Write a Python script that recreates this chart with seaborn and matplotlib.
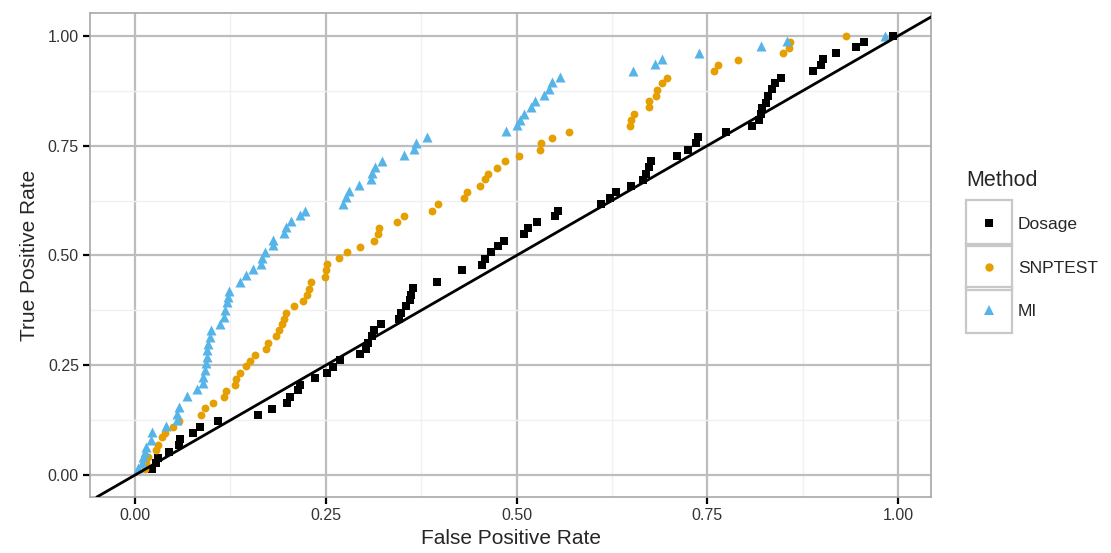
import matplotlib
matplotlib.use("Agg")
import matplotlib.pyplot as plt
import numpy as np
import pandas as pd
import seaborn as sns
from matplotlib.lines import Line2D
from matplotlib.patches import Rectangle

# ROC points
dosage_fpr = [0.022, 0.028, 0.030, 0.044, 0.057, 0.059, 0.076, 0.085, 0.109, 0.161,
              0.179, 0.199, 0.203, 0.214, 0.216, 0.236, 0.251, 0.260, 0.268, 0.295,
              0.303, 0.305, 0.310, 0.313, 0.322, 0.346, 0.348, 0.355, 0.360, 0.362,
              0.364, 0.396, 0.429, 0.454, 0.458, 0.466, 0.475, 0.483, 0.510, 0.515,
              0.527, 0.550, 0.554, 0.611, 0.623, 0.630, 0.650, 0.666, 0.670, 0.674,
              0.676, 0.710, 0.724, 0.735, 0.738, 0.774, 0.809, 0.817, 0.820, 0.822,
              0.827, 0.830, 0.835, 0.839, 0.846, 0.888, 0.899, 0.902, 0.919, 0.945,
              0.955, 0.993]
dosage_tpr = [0.013, 0.027, 0.038, 0.053, 0.068, 0.081, 0.096, 0.110, 0.123, 0.136,
              0.150, 0.164, 0.178, 0.193, 0.205, 0.220, 0.233, 0.246, 0.261, 0.275,
              0.288, 0.301, 0.316, 0.330, 0.343, 0.356, 0.368, 0.384, 0.398, 0.409,
              0.427, 0.439, 0.466, 0.479, 0.493, 0.508, 0.521, 0.534, 0.548, 0.562,
              0.577, 0.589, 0.602, 0.618, 0.630, 0.644, 0.659, 0.672, 0.686, 0.701,
              0.714, 0.727, 0.741, 0.755, 0.769, 0.782, 0.795, 0.808, 0.822, 0.835,
              0.848, 0.864, 0.879, 0.892, 0.905, 0.919, 0.933, 0.947, 0.961, 0.975,
              0.987, 1.000]

snptest_fpr = [0.013, 0.015, 0.017, 0.028, 0.030, 0.035, 0.039, 0.050, 0.058, 0.087,
               0.092, 0.102, 0.116, 0.119, 0.131, 0.132, 0.137, 0.145, 0.151, 0.157,
               0.171, 0.174, 0.185, 0.188, 0.192, 0.195, 0.198, 0.208, 0.220, 0.225,
               0.228, 0.230, 0.249, 0.250, 0.252, 0.267, 0.278, 0.295, 0.313, 0.318,
               0.320, 0.343, 0.352, 0.389, 0.397, 0.431, 0.435, 0.452, 0.459, 0.463,
               0.474, 0.485, 0.503, 0.531, 0.532, 0.547, 0.568, 0.649, 0.650, 0.654,
               0.673, 0.674, 0.683, 0.684, 0.691, 0.697, 0.758, 0.764, 0.790, 0.849,
               0.857, 0.858, 0.932]
snptest_tpr = [0.013, 0.027, 0.042, 0.057, 0.068, 0.086, 0.096, 0.110, 0.123, 0.136,
               0.152, 0.164, 0.178, 0.192, 0.206, 0.218, 0.233, 0.248, 0.259, 0.274,
               0.288, 0.301, 0.316, 0.330, 0.343, 0.356, 0.369, 0.384, 0.396, 0.411,
               0.424, 0.439, 0.452, 0.466, 0.480, 0.494, 0.508, 0.520, 0.534, 0.548,
               0.562, 0.576, 0.589, 0.602, 0.618, 0.631, 0.645, 0.658, 0.673, 0.686,
               0.699, 0.714, 0.727, 0.740, 0.755, 0.767, 0.782, 0.795, 0.809, 0.823,
               0.837, 0.851, 0.864, 0.877, 0.892, 0.905, 0.919, 0.933, 0.945, 0.961,
               0.973, 0.987, 1.000]

mi_fpr = [0.004, 0.009, 0.011, 0.013, 0.015, 0.021, 0.022, 0.041, 0.055, 0.055,
          0.057, 0.068, 0.081, 0.089, 0.089, 0.092, 0.093, 0.094, 0.094, 0.095,
          0.098, 0.100, 0.111, 0.116, 0.118, 0.120, 0.122, 0.123, 0.137, 0.145,
          0.154, 0.165, 0.166, 0.170, 0.181, 0.181, 0.195, 0.198, 0.205, 0.216,
          0.223, 0.273, 0.277, 0.280, 0.294, 0.309, 0.311, 0.315, 0.323, 0.352,
          0.366, 0.368, 0.382, 0.486, 0.501, 0.505, 0.510, 0.519, 0.524, 0.536,
          0.542, 0.546, 0.557, 0.653, 0.681, 0.691, 0.739, 0.820, 0.854, 0.983]
mi_tpr = [0.015, 0.027, 0.042, 0.053, 0.064, 0.080, 0.098, 0.111, 0.125, 0.140,
          0.154, 0.180, 0.195, 0.210, 0.223, 0.239, 0.254, 0.269, 0.284, 0.299,
          0.314, 0.330, 0.345, 0.360, 0.375, 0.394, 0.405, 0.420, 0.439, 0.455,
          0.470, 0.481, 0.495, 0.508, 0.523, 0.536, 0.551, 0.564, 0.578, 0.591,
          0.602, 0.617, 0.632, 0.646, 0.661, 0.674, 0.688, 0.701, 0.716, 0.729,
          0.743, 0.756, 0.770, 0.784, 0.797, 0.809, 0.822, 0.837, 0.851, 0.865,
          0.879, 0.894, 0.907, 0.920, 0.936, 0.948, 0.962, 0.976, 0.989, 1.000]

methods = ["Dosage", "SNPTEST", "MI"]
colors = {"Dosage": "#000000", "SNPTEST": "#E69F00", "MI": "#56B4E9"}
markers = {"Dosage": "s", "SNPTEST": "o", "MI": "^"}
sizes = {"Dosage": 38, "SNPTEST": 32, "MI": 52}

df = pd.concat([
    pd.DataFrame({"fpr": dosage_fpr, "tpr": dosage_tpr, "Method": "Dosage"}),
    pd.DataFrame({"fpr": snptest_fpr, "tpr": snptest_tpr, "Method": "SNPTEST"}),
    pd.DataFrame({"fpr": mi_fpr, "tpr": mi_tpr, "Method": "MI"}),
], ignore_index=True)

sns.set_theme(style="white")
plt.rcParams["font.family"] = ["Liberation Sans", "DejaVu Sans"]

fig = plt.figure(figsize=(11.11, 5.53), dpi=100)
ax = fig.add_axes([90 / 1111, 56 / 553, 841 / 1111, 484 / 553])

for m in methods:
    sub = df[df["Method"] == m]
    sns.scatterplot(data=sub, x="fpr", y="tpr", color=colors[m], marker=markers[m],
                    s=sizes[m], linewidth=0, ax=ax, zorder=3, legend=False)

ax.axline((0, 0), slope=1, color="black", lw=2, zorder=4)

ax.set_xlim(-0.059, 1.043)
ax.set_ylim(-0.05, 1.052)
ticks = [0, 0.25, 0.5, 0.75, 1.0]
ax.set_xticks(ticks)
ax.set_yticks(ticks)
ax.set_xticklabels(["0.00", "0.25", "0.50", "0.75", "1.00"])
ax.set_yticklabels(["0.00", "0.25", "0.50", "0.75", "1.00"])
ax.set_xticks([0.125, 0.375, 0.625, 0.875], minor=True)
ax.set_yticks([0.125, 0.375, 0.625, 0.875], minor=True)
ax.grid(which="major", color="#bdbdbd", lw=1.6, zorder=0)
ax.grid(which="minor", color="#f0f0f0", lw=1.0, zorder=0)
ax.set_axisbelow(True)
ax.tick_params(which="major", direction="out", length=5, width=1.6, color="black",
               labelsize=11.5, labelcolor="#333333", pad=3,
               bottom=True, left=True)
ax.tick_params(which="minor", length=0)
for sp in ax.spines.values():
    sp.set_color("#a8a8a8")
    sp.set_linewidth(1.2)

ax.set_xlabel("False Positive Rate", fontsize=15, labelpad=4)
ax.set_ylabel("True Positive Rate", fontsize=15, labelpad=6)

# legend in ggplot style: framed keys, title placed separately
handles = [Line2D([], [], ls="none", marker=markers[m], color=colors[m],
                  markersize=6 if m != "MI" else 7, markeredgewidth=0) for m in methods]
leg = fig.legend(handles, methods, loc="center left",
                 bbox_to_anchor=(967 / 1111, 1 - 268 / 553),
                 frameon=False, fontsize=12.5,
                 handlelength=2.53, handletextpad=0.4, labelspacing=1.65,
                 borderpad=0, borderaxespad=0)
fig.text(966 / 1111, 1 - 181 / 553, "Method", fontsize=15.5, ha="left", va="center")

fig.canvas.draw()
W, H = fig.bbox.width, fig.bbox.height
for h in leg.legend_handles:
    bb = h.get_window_extent(fig.canvas.get_renderer())
    cx, cy = (bb.x0 + bb.x1) / 2, (bb.y0 + bb.y1) / 2
    fig.add_artist(Rectangle(((cx - 23) / W, (cy - 23) / H), 46 / W, 46 / H,
                             transform=fig.transFigure, fill=False,
                             edgecolor="#c8c8c8", lw=1.6, zorder=0))

fig.savefig("out.png", dpi=100)
